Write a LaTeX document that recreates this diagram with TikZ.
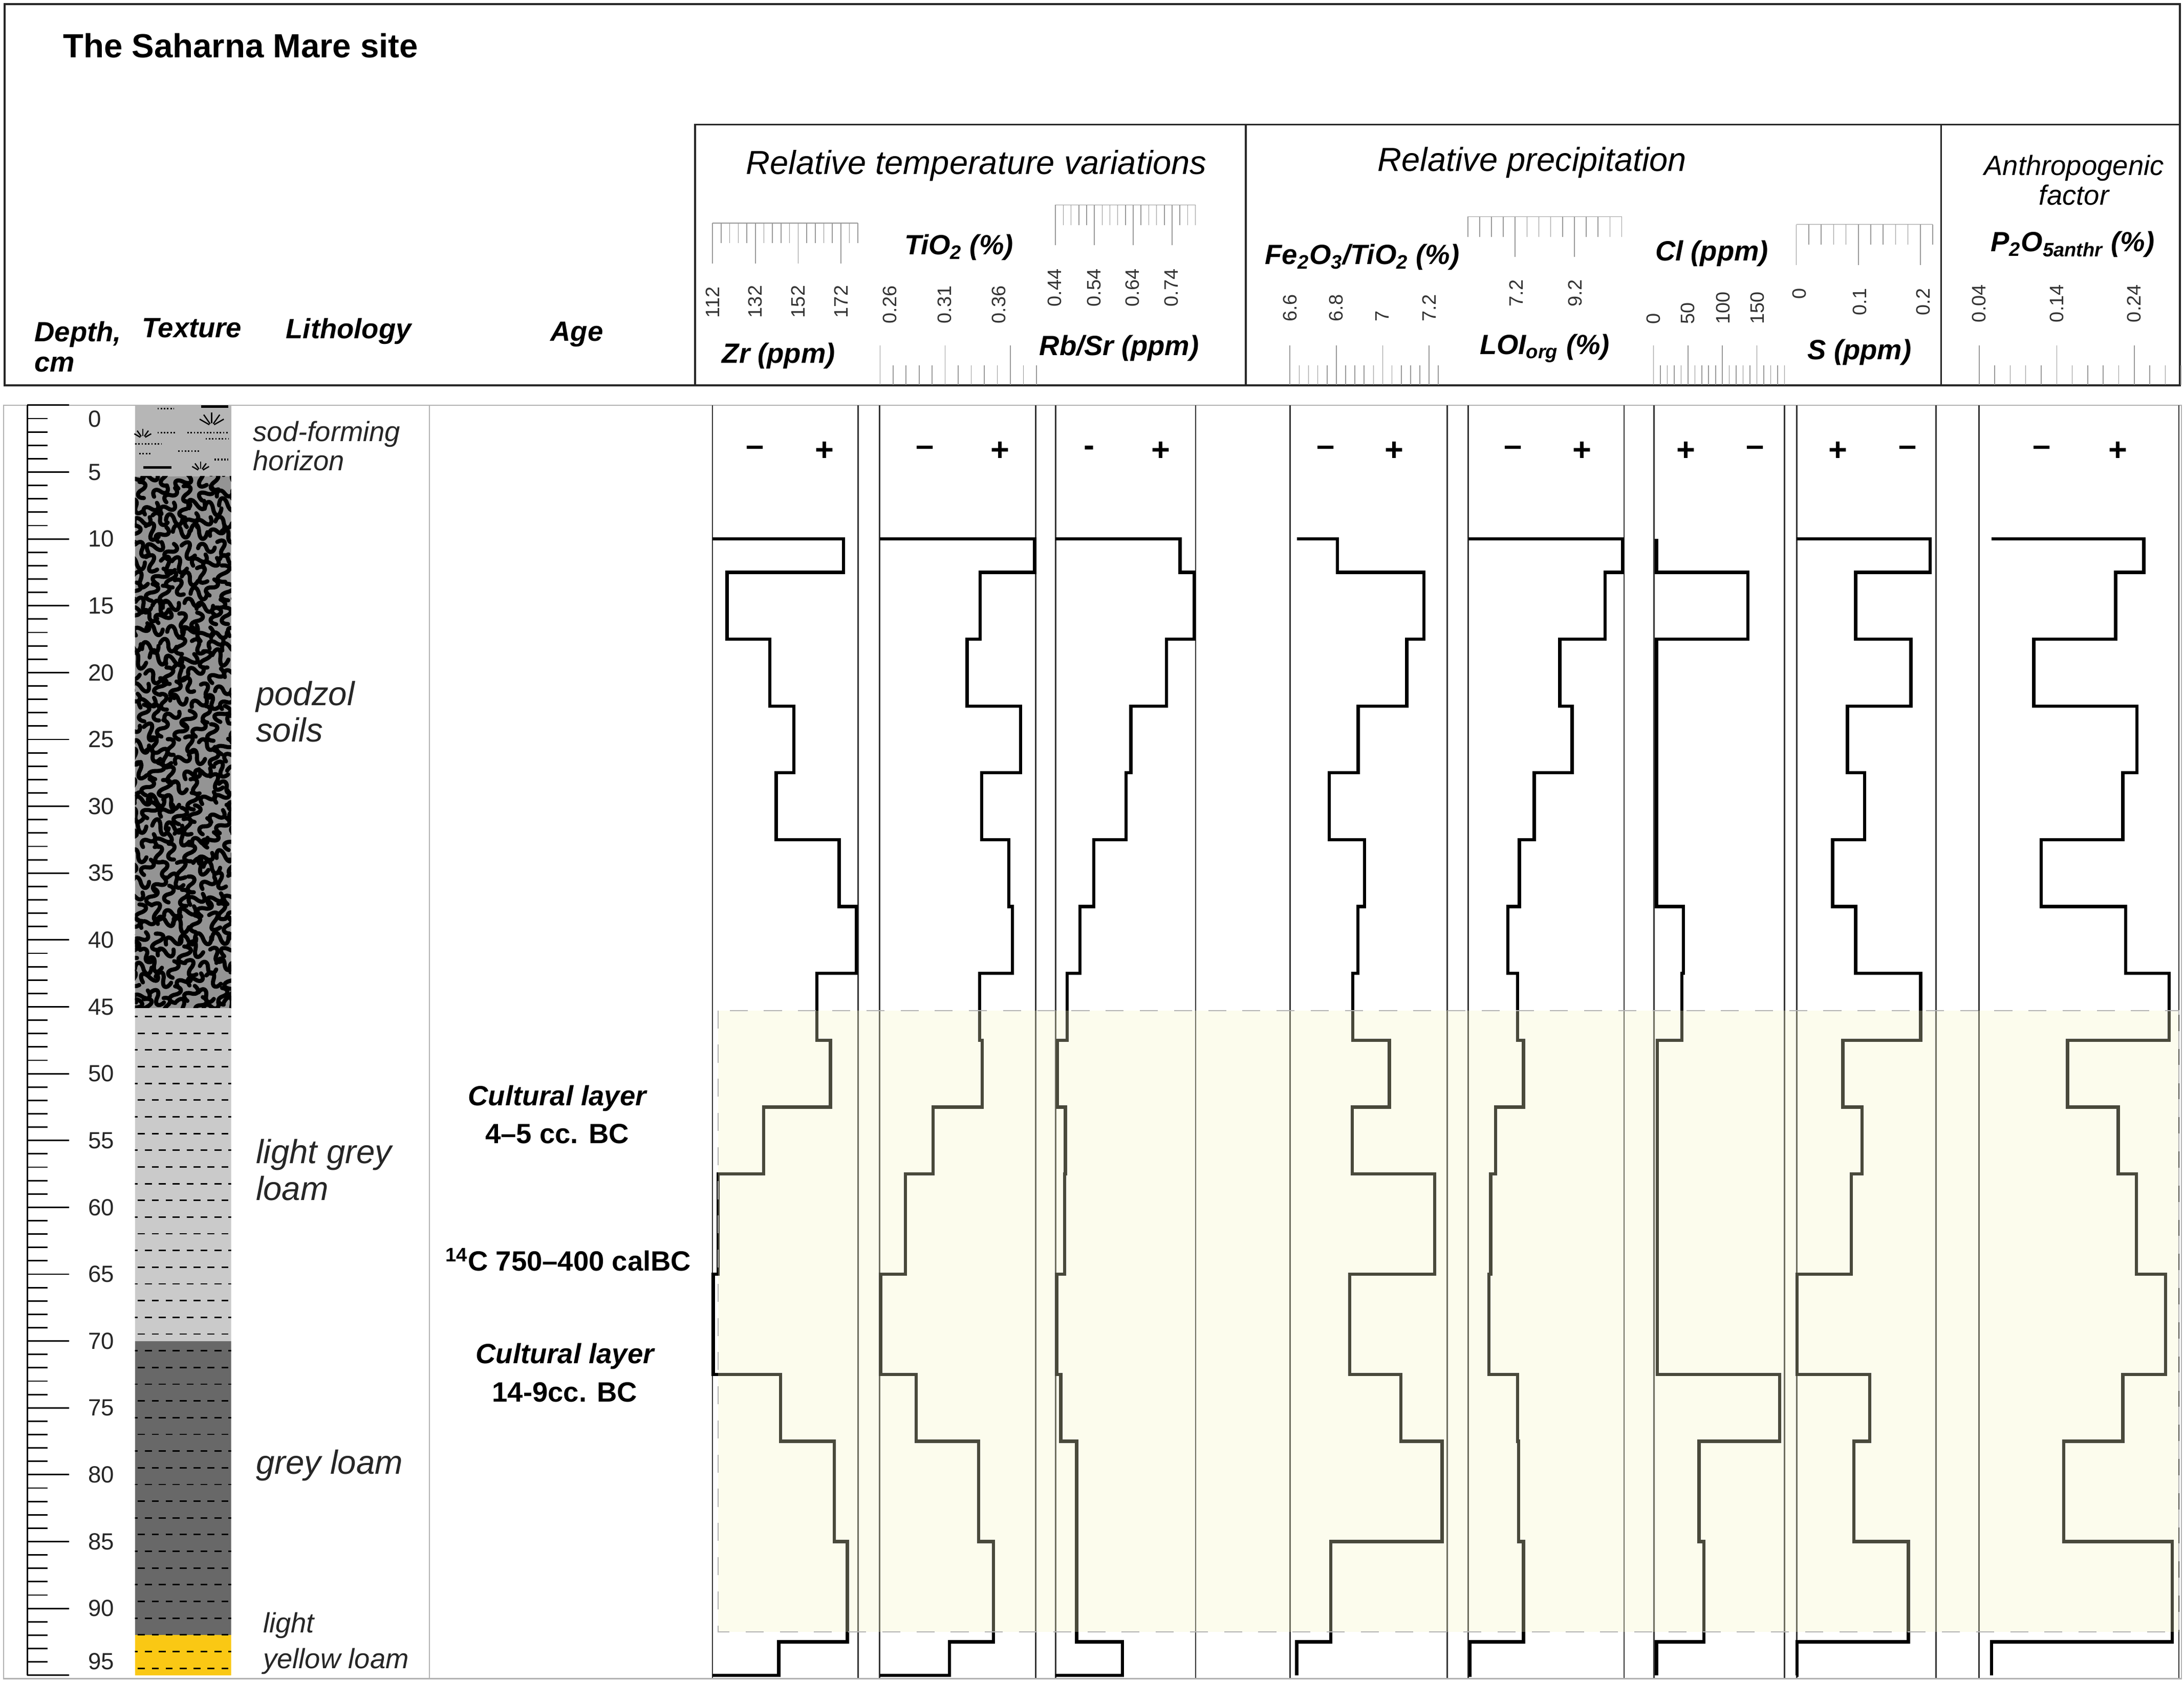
\documentclass[tikz,border=0pt]{standalone}
\usepackage{fontspec}
\setmainfont{Liberation Sans}

\definecolor{sodgray}{RGB}{182,182,182}
\definecolor{podzolgray}{RGB}{148,148,148}
\definecolor{lightloam}{RGB}{202,202,202}
\definecolor{greyloam}{RGB}{104,104,104}
\definecolor{yellowloam}{RGB}{250,200,20}
\definecolor{cultshade}{RGB}{245,245,196}

\tikzset{
  frame/.style={line width=1.1pt, draw=black!85},
  thinframe/.style={line width=0.6pt, draw=black!30},
  panel/.style={line width=0.8pt, draw=black!80},
  profile/.style={line width=1.8pt, line join=miter},
  tick/.style={line width=0.45pt, draw=black!40},
  ticklabel/.style={font=\fontsize{10.8}{12}\selectfont, text=black!80, rotate=90, inner sep=0pt},
  chartlabel/.style={font=\fontsize{15.5}{18}\selectfont\bfseries\itshape, inner sep=0pt},
  colhead/.style={font=\fontsize{15.5}{17}\selectfont\bfseries\itshape, anchor=west, inner sep=0pt, align=left},
  grouphead/.style={font=\fontsize{18.5}{21}\selectfont\itshape, inner sep=0pt},
  litho/.style={font=\fontsize{18.6}{20.4}\selectfont\itshape, anchor=west, inner sep=0pt, align=left, text=black!85},
  agetext/.style={font=\fontsize{15.5}{21.2}\selectfont\bfseries, inner sep=0pt, align=center},
  sign/.style={font=\fontsize{18}{18}\selectfont\bfseries, inner sep=0pt},
  depthlabel/.style={font=\fontsize{13}{14}\selectfont, anchor=west, inner sep=0pt, text=black!85},
  worm/.style={line width=2.3pt, line cap=round, line join=round, black},
  loamdash/.style={line width=0.8pt, black},
}

% depth boundaries of the sampled intervals (cm)
\def\bnd{{10,12.5,17.5,22.5,27.5,32.5,37.5,42.5,47.5,52.5,57.5,65,72.5,77.5,85,92.5,95}}

% step curve: left edge, width, base value, 16 values
\newcommand{\drawprofile}[4]{%
  \begin{scope}[shift={(#1,291)}, xscale=#2, yscale=9.6]
    \draw[profile] (#3,10) \foreach \v [count=\i] in {#4} { -- (\v,{\bnd[\i-1]}) -- (\v,{\bnd[\i]}) } -- (#3,95);
  \end{scope}}

% scale hanging from a line: x0, y0, step, intervals, first major
\newcommand{\topscale}[5]{%
  \draw[tick] (#1,#2) -- ({#1+#3*#4},#2);
  \foreach \k in {0,...,#4} {
    \pgfmathsetmacro{\ticklen}{mod(\k+10-#5,5)==0 ? 29 : 14.5}
    \draw[tick] ({#1+\k*#3},#2) -- ++(0,\ticklen);
  }}

% scale standing on the header floor: x0, step, intervals
\newcommand{\botscale}[3]{%
  \foreach \k in {0,...,#3} {
    \pgfmathsetmacro{\ticklen}{mod(\k,5)==0 ? 28.4 : 14.2}
    \draw[tick] ({#1+\k*#2},276.4) -- ++(0,-\ticklen);
  }}

\begin{document}
\begin{tikzpicture}[x=0.7743pt, y=-0.7743pt]
\useasboundingbox (0,0) rectangle (1568,1206.8);

% Frames
\draw[frame] (3.3,2.8) rectangle (1565,276.6);
\draw[frame] (499,276.6) -- (499,89.5) -- (1565,89.5);
\draw[frame] (894.5,89.5) -- (894.5,276.6);
\draw[frame] (1393.6,89.5) -- (1393.6,276.6);
\draw[thinframe] (2.5,291) rectangle (1566,1205.5);
\draw[thinframe] (308.3,291) -- (308.3,1205.5);

% Headings
\node[anchor=west, font=\fontsize{18.6}{22}\selectfont\bfseries, inner sep=0pt] (title) at (45,32.8) {The Saharna Mare site};
\node[colhead] (depthhd) at (24.6,249) {Depth,\\cm};
\node[colhead] (texturehd) at (101.7,235.5) {Texture};
\node[colhead] (lithohd) at (205,238) {Lithology};
\node[colhead] (agehd) at (395,240) {Age};
\node[grouphead] (temphd) at (701,118.9) {Relative temperature variations};
\node[grouphead] (prechd) at (1100,116.9) {Relative precipitation};
\node[grouphead, font=\fontsize{15.5}{16.3}\selectfont\itshape, align=center] (anthhd) at (1489,129.4) {Anthropogenic\\factor};

% Chart labels
\node[chartlabel] (zrhd) at (559,255.4) {Zr (ppm)};
\node[chartlabel] (tihd) at (688.4,177.6) {TiO\textsubscript{2} (\%)};
\node[chartlabel] (rbhd) at (803.5,250.1) {Rb/Sr (ppm)};
\node[chartlabel] (fehd) at (978,184.5) {Fe\textsubscript{2}O\textsubscript{3}/TiO\textsubscript{2} (\%)};
\node[chartlabel] (loihd) at (1109,250.1) {LOI\textsubscript{org} (\%)};
\node[chartlabel] (clhd) at (1229,181.9) {Cl (ppm)};
\node[chartlabel] (shd) at (1335,252.8) {S (ppm)};
\node[chartlabel] (phd) at (1488,175.3) {P\textsubscript{2}O\textsubscript{5anthr} (\%)};

% Scales
\topscale{511.6}{160.2}{6.14}{17}{0}
\botscale{631.8}{9.36}{12}
\topscale{757.8}{147.1}{5.58}{18}{0}
\botscale{926.1}{6.66}{16}
\topscale{1053.8}{155.6}{8.5}{13}{4}
\botscale{1187.1}{4.95}{19}
\topscale{1289.7}{161.2}{8.9}{11}{0}
\botscale{1420.9}{11.14}{13}

\foreach \lab/\x [count=\n] in {112/511.6, 132/542.3, 152/573, 172/603.7}
  \node[ticklabel, anchor=west] (zrlab\n) at (\x,228.5) {\lab};
\foreach \lab/\x [count=\n] in {0.26/638.8, 0.31/678, 0.36/717.2}
  \node[ticklabel, anchor=west] (tilab\n) at (\x,232.7) {\lab};
\foreach \lab/\x [count=\n] in {0.44/757, 0.54/785.3, 0.64/813, 0.74/841}
  \node[ticklabel, anchor=west] (rblab\n) at (\x,220.6) {\lab};
\foreach \lab/\x [count=\n] in {6.6/926.1, 6.8/959.4, 7/992.3, 7.2/1026.1}
  \node[ticklabel, anchor=west] (felab\n) at (\x,231.1) {\lab};
\foreach \lab/\x [count=\n] in {7.2/1088.4, 9.2/1130.9}
  \node[ticklabel, anchor=west] (loilab\n) at (\x,220.6) {\lab};
\foreach \lab/\x [count=\n] in {0/1187.1, 50/1211.8, 100/1236.9, 150/1261.6}
  \node[ticklabel, anchor=west] (cllab\n) at (\x,233.1) {\lab};
\foreach \lab/\x [count=\n] in {0/1291.9, 0.1/1335.2, 0.2/1380.6}
  \node[ticklabel, anchor=east] (slab\n) at (\x,206.8) {\lab};
\foreach \lab/\x [count=\n] in {0.04/1420.9, 0.14/1476.8, 0.24/1532.2}
  \node[ticklabel, anchor=west] (plab\n) at (\x,231.8) {\lab};

% Depth ruler
\draw[line width=0.8pt] (19.6,291) -- (19.6,1203);
\foreach \d in {0,...,95} {
  \pgfmathsetmacro{\ticklen}{mod(\d,5)==0 ? 29.9 : 14.4}
  \draw[line width=0.8pt] (19.6,{291+9.6*\d}) -- ++(\ticklen,0);
}
\foreach \d in {5,10,...,90}
  \node[depthlabel] (dp\d) at (63,{291+9.6*\d}) {\d};
\node[depthlabel] (dp0) at (63,301) {0};
\node[depthlabel] (dp95) at (63,1193) {95};

% Texture: sod-forming horizon
\fill[sodgray] (96.9,291) rectangle (166,342);
\foreach \xa/\xb/\y in {113/125/293.5, 113/126/310.6, 134.5/164/310.6, 147.6/164/315, 97/116/318.8, 100/108/325.8, 128/143/324, 154/164/330}
  \draw[line width=0.9pt, dash pattern=on 0.8pt off 1pt] (\xa,\y) -- (\xb,\y);
\draw[line width=1.3pt] (103,335.7) -- (123,335.7);
\draw[line width=1.6pt] (144.4,292) -- (164,292);
\foreach \cx/\cy/\r in {152/306/8, 102.5/315/5, 144/338.5/5}
  \foreach \a in {-150,-125,-90,-55,-30}
    \draw[line width=0.7pt] (\cx,\cy) ++(\a:2) -- ++(\a:\r);

% Texture: podzol soils
\begin{scope}
  \clip (96.9,342) rectangle (166,724);
  \fill[podzolgray] (96.9,342) rectangle (166,724);
  \pgfmathsetseed{11}
  \foreach \r in {0,...,38} {
    \foreach \c in {0,...,6} {
      \pgfmathsetmacro{\cx}{96+\c*11.5+mod(\r,2)*5.5+2.5*rand}
      \pgfmathsetmacro{\cy}{344+\r*10+2.5*rand}
      \pgfmathsetmacro{\ang}{180*rnd}
      \pgfmathsetmacro{\bend}{4+3*rnd}
      \draw[worm, rotate around={\ang:(\cx,\cy)}] (\cx-6,\cy) .. controls (\cx-5,\cy-\bend) and (\cx-1,\cy-\bend) .. (\cx,\cy) .. controls (\cx+1,\cy+\bend) and (\cx+5,\cy+\bend) .. (\cx+6,\cy);
    }
  }
\end{scope}

% Texture: loams
\begin{scope}
  \clip (96.9,724) rectangle (166,1203);
  \fill[lightloam] (96.9,724) rectangle (166,963);
  \fill[greyloam] (96.9,963) rectangle (166,1174);
  \fill[yellowloam] (96.9,1174) rectangle (166,1203);
  \foreach \r in {0,...,39} {
    \pgfmathsetmacro{\ry}{730+\r*12}
    \pgfmathsetmacro{\off}{mod(\r,2)*5}
    \foreach \c in {0,...,7}
      \draw[loamdash] ({94+\off+\c*10},\ry) -- ++(5,0);
  }
\end{scope}

% Lithology
\node[litho, font=\fontsize{15.5}{16}\selectfont\itshape] (sod) at (181.5,320.3) {sod-forming\\horizon};
\node[litho] (podzol) at (183.5,511) {podzol\\soils};
\node[litho] (lgloam) at (183.5,840) {light grey\\loam};
\node[litho] (gloam) at (183.5,1052.4) {grey loam};
\node[litho, font=\fontsize{15.5}{20}\selectfont\itshape] (ylloam) at (188.7,1180) {light\\yellow loam};

% Age
\node[agetext] (cult1) at (400,800.3) {{\itshape Cultural layer}\\4--5 cc. BC};
\node[agetext] (c14) at (408,904.5) {\textsuperscript{14}C 750--400 calBC};
\node[agetext] (cult2) at (405.5,985.7) {{\itshape Cultural layer}\\14-9cc. BC};

% Panels
\foreach \l/\r in {511.5/616, 631.5/743.5, 757.9/858.4, 926.3/1039, 1054.1/1166, 1187.4/1281.3, 1289.9/1389.8, 1420.8/1564.3} {
  \draw[panel] (\l,291) -- (\l,1205);
  \draw[panel] (\r,291) -- (\r,1205);
}
\foreach \x/\s [count=\n] in {542.1/--, 592/+, 664/--, 718/+, 781.8/-, 833.3/+, 951.8/--, 1001/+, 1086.3/--, 1136/+, 1210.5/+, 1260/--, 1319.4/+, 1369.5/--, 1466/--, 1520.4/+}
  \node[sign] (sgn\n) at (\x,324) {\s};

% Profiles
\drawprofile{511.5}{104.5}{0}{0.90,0.10,0.393,0.56,0.438,0.871,0.989,0.718,0.811,0.351,0.04,0.005,0.467,0.838,0.927,0.456}
\drawprofile{631.5}{112}{0}{0.994,0.644,0.561,0.903,0.654,0.828,0.851,0.642,0.658,0.342,0.166,0.006,0.234,0.634,0.731,0.447}
\drawprofile{757.9}{100.5}{0}{0.889,0.988,0.792,0.538,0.503,0.273,0.173,0.083,0.014,0.069,0.065,0.007,0.037,0.15,0.15,0.476}
\drawprofile{926.3}{112.7}{0.042}{0.300,0.851,0.742,0.433,0.248,0.473,0.431,0.399,0.632,0.395,0.920,0.380,0.706,0.968,0.258,0.042}
\drawprofile{1054.1}{111.9}{0}{0.989,0.879,0.588,0.666,0.423,0.328,0.254,0.317,0.355,0.175,0.144,0.133,0.317,0.323,0.355,0.011}
\drawprofile{1187.4}{93.9}{0.02}{0.02,0.718,0.02,0.02,0.02,0.02,0.227,0.214,0.025,0.025,0.025,0.025,0.962,0.345,0.383,0.02}
\drawprofile{1289.9}{99.9}{0}{0.959,0.424,0.821,0.365,0.489,0.258,0.424,0.891,0.332,0.470,0.393,0.004,0.526,0.411,0.803,0.004}
\drawprofile{1420.8}{143.5}{0.062}{0.825,0.684,0.274,0.790,0.720,0.311,0.733,0.951,0.443,0.697,0.788,0.934,0.720,0.424,0.967,0.062}

% Cultural layers
\fill[cultshade, fill opacity=0.3] (515.5,725.6) rectangle (1564.3,1172);
\draw[black!30, line width=0.6pt, dash pattern=on 10pt off 9pt] (515.5,725.6) rectangle (1564.3,1172);

\end{tikzpicture}
\end{document}
